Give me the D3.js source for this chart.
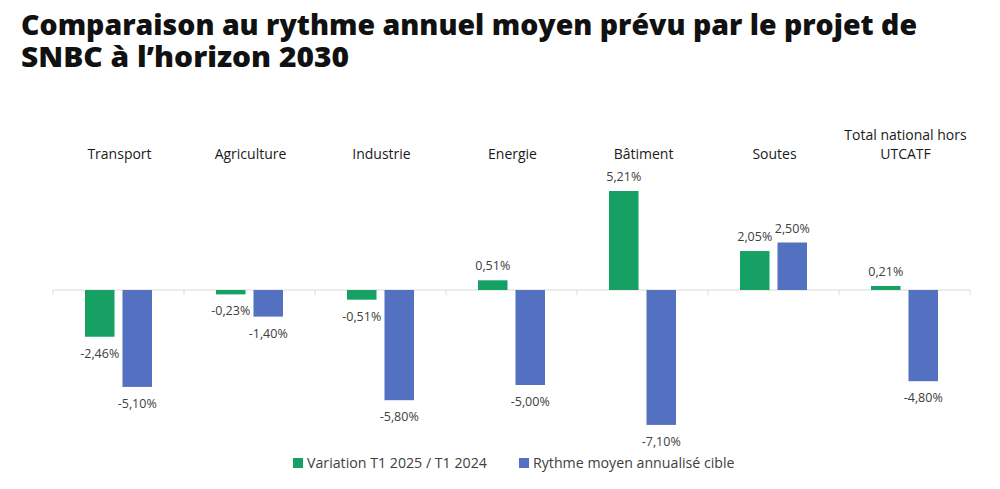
<!DOCTYPE html>
<html>
<head>
<meta charset="utf-8">
<script src="https://cdn.jsdelivr.net/npm/d3@7"></script>
<style>
  html, body { margin: 0; padding: 0; background: #fff; }
  svg { display: block; }
</style>
</head>
<body>
<svg id="chart" width="1000" height="489"></svg>
<script>
const titleLines = ["Comparaison au rythme annuel moyen prévu par le projet de", "SNBC à l’horizon 2030"];
const categories = ["Transport", "Agriculture", "Industrie", "Energie", "Bâtiment", "Soutes", "Total national hors\nUTCATF"];
const seriesNames = ["Variation T1 2025 / T1 2024", "Rythme moyen annualisé cible"];
const variation = [-2.46, -0.23, -0.51, 0.51, 5.21, 2.05, 0.21];
const rythme = [-5.10, -1.40, -5.80, -5.00, -7.10, 2.50, -4.80];
const colors = ["#17a064", "#5470c0"];

const svg = d3.select("#chart");

// Title (single text element, two tspans)
const titleWidths = [896, 328];
const title = svg.append("text")
  .attr("font-family", "'Open Sans', sans-serif")
  .attr("font-weight", 800)
  .attr("font-size", 28)
  .attr("fill", "#111");
titleLines.forEach((t, i) => {
  title.append("tspan")
    .attr("x", 21).attr("y", 35 + i * 32)
    .attr("textLength", titleWidths[i])
    .attr("lengthAdjust", "spacingAndGlyphs")
    .text(t);
});

const x0 = d3.scaleBand().domain(categories).range([53, 970]).padding(0);
const x1 = d3.scaleBand().domain(seriesNames).range([32, 99]).paddingInner(0.213).paddingOuter(0);
const y = d3.scaleLinear().domain([-8, 8]).range([442, 138]);

const data = categories.map((c, i) => ({ cat: c, vals: [variation[i], rythme[i]] }));

// Axis line at zero
svg.append("line")
  .attr("x1", x0.range()[0]).attr("x2", x0.range()[1])
  .attr("y1", y(0)).attr("y2", y(0))
  .attr("stroke", "#d9d9d9").attr("stroke-width", 1);
// Tick marks at category boundaries
const bounds = categories.map(c => x0(c)).concat([x0.range()[1]]);
svg.selectAll(".tick").data(bounds).enter().append("line")
  .attr("x1", d => d).attr("x2", d => d)
  .attr("y1", y(0)).attr("y2", y(0) + 5)
  .attr("stroke", "#d9d9d9").attr("stroke-width", 1);

const fmt = v => d3.format(".2f")(v).replace(".", ",").replace("\u2212", "-") + "%";

const groups = svg.selectAll(".grp").data(data).enter().append("g")
  .attr("transform", d => `translate(${x0(d.cat)},0)`);

groups.selectAll("rect").data(d => d.vals.map((v, j) => ({ v, s: seriesNames[j], j })))
  .enter().append("rect")
  .attr("x", d => x1(d.s))
  .attr("width", x1.bandwidth())
  .attr("y", d => y(Math.max(0, d.v)))
  .attr("height", d => Math.abs(y(d.v) - y(0)))
  .attr("fill", d => colors[d.j]);

groups.selectAll(".lbl").data(d => d.vals.map((v, j) => ({ v, s: seriesNames[j], j })))
  .enter().append("text")
  .attr("x", d => x1(d.s) + x1.bandwidth() / 2)
  .attr("y", d => d.v >= 0 ? y(d.v) - 10 : y(d.v) + 21)
  .attr("text-anchor", "middle")
  .attr("font-family", "'Open Sans', sans-serif")
  .attr("font-size", 12.5)
  .attr("fill", "#404040")
  .text(d => fmt(d.v));

// Category labels
groups.each(function(d) {
  const lines = d.cat.split("\n");
  const g = d3.select(this);
  lines.forEach((ln, k) => {
    g.append("text")
      .attr("x", x0.bandwidth() / 2 + 1)
      .attr("y", 159 - (lines.length - 1 - k) * 19)
      .attr("text-anchor", "middle")
      .attr("font-family", "'Open Sans', sans-serif")
      .attr("font-size", 14)
      .attr("fill", "#1a1a1a")
      .text(ln);
  });
});

// Legend
const legendX = [293, 519];
const leg = svg.selectAll(".leg").data(seriesNames).enter().append("g")
  .attr("transform", (d, i) => `translate(${legendX[i]},463)`);
leg.append("rect").attr("x", 0).attr("y", -5).attr("width", 10).attr("height", 10)
  .attr("fill", (d, i) => colors[i]);
leg.append("text").attr("x", 14).attr("y", 5)
  .attr("font-family", "'Open Sans', sans-serif")
  .attr("font-size", 14.2)
  .attr("fill", "#404040")
  .text(d => d);
</script>
</body>
</html>
